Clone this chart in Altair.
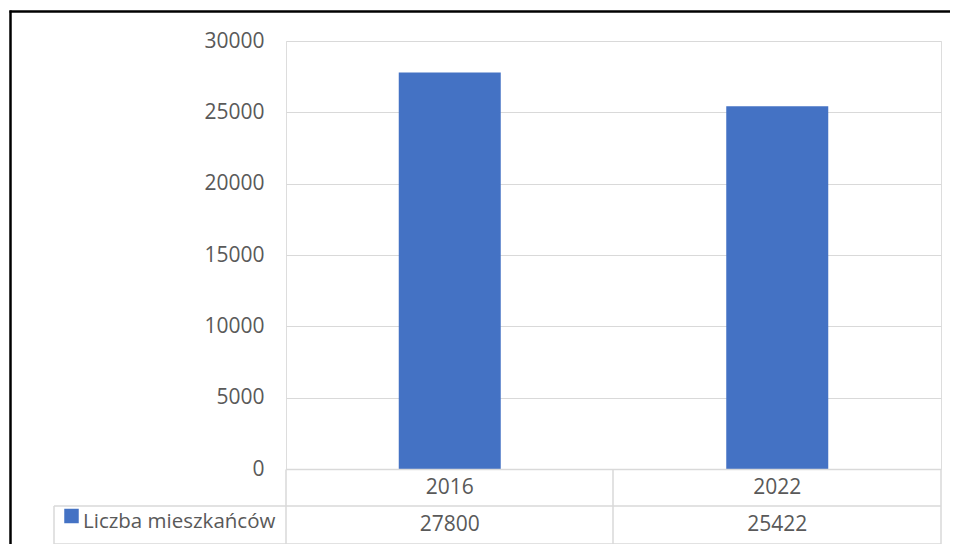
import altair as alt
import pandas as pd

years = ["2016", "2022"]
values = [27800, 25422]
series_name = "Liczba mieszkańców"
y_ticks = [0, 5000, 10000, 15000, 20000, 25000, 30000]

df = pd.DataFrame({"Rok": years, "Wartosc": values, "Etykieta": [str(v) for v in values]})

FONT = "Open Sans"
TXT = "#595959"
GRID = "#d9d9d9"
BAR = "#4472C4"

x_enc = alt.X("Rok:N", sort=years, axis=None,
              scale=alt.Scale(paddingInner=0, paddingOuter=0))

bars = alt.Chart(df).mark_bar(size=102, color=BAR).encode(
    x=x_enc,
    y=alt.Y("Wartosc:Q", title=None,
            scale=alt.Scale(domain=[0, 30000], nice=False),
            axis=alt.Axis(values=y_ticks, format="d", labelFontSize=21, labelColor=TXT,
                          labelFont=FONT, labelPadding=22, ticks=False,
                          domain=False, gridColor=GRID, gridWidth=1.2,
                          labelFlush=False)),
)

year_text = alt.Chart(df).mark_text(font=FONT, fontSize=21, color=TXT,
                                    baseline="middle").encode(
    x=x_enc, y=alt.value(447), text="Rok:N")

val_text = alt.Chart(df).mark_text(font=FONT, fontSize=21, color=TXT,
                                   baseline="middle").encode(
    x=x_enc, y=alt.value(484), text="Etykieta:N")

leg_df = pd.DataFrame({"s": [series_name]})
leg_sq = alt.Chart(leg_df).mark_square(size=210, color=BAR, opacity=1).encode(
    x=alt.value(-214.5), y=alt.value(475))
leg_txt = alt.Chart(leg_df).mark_text(font=FONT, fontSize=20.5, color=TXT,
                                      align="left", baseline="middle").encode(
    x=alt.value(-203), y=alt.value(481), text="s:N")


def hline(x1, x2, y, color=GRID, w=1.5):
    return alt.Chart(leg_df).mark_rule(color=color, strokeWidth=w, clip=False).encode(
        x=alt.value(x1), x2=alt.value(x2), y=alt.value(y))


def vline(x, y1, y2, color=GRID, w=1.5):
    return alt.Chart(leg_df).mark_rule(color=color, strokeWidth=w, clip=False).encode(
        x=alt.value(x), y=alt.value(y1), y2=alt.value(y2))


lines = [
    hline(0, 655, 428.5),
    hline(-232, 655, 465),
    hline(-232, 655, 503),
    vline(0, 428.5, 503),
    vline(-232, 465, 503),
    vline(327, 428.5, 503),
    vline(655, 428.5, 503),
    hline(-276.5, 700, -29.5, color="black", w=2.5),
    vline(-275.5, -30.5, 520, color="black", w=2.5),
]

chart = alt.layer(bars, year_text, val_text, leg_sq, leg_txt, *lines).properties(
    width=655, height=428,
    autosize=alt.AutoSizeParams(type="none"),
    padding={"left": 278, "top": 33, "right": 9, "bottom": 75},
).configure_view(stroke=None).configure(background="white")

chart.save("out.html", embed_options={"renderer": "svg", "actions": False})
